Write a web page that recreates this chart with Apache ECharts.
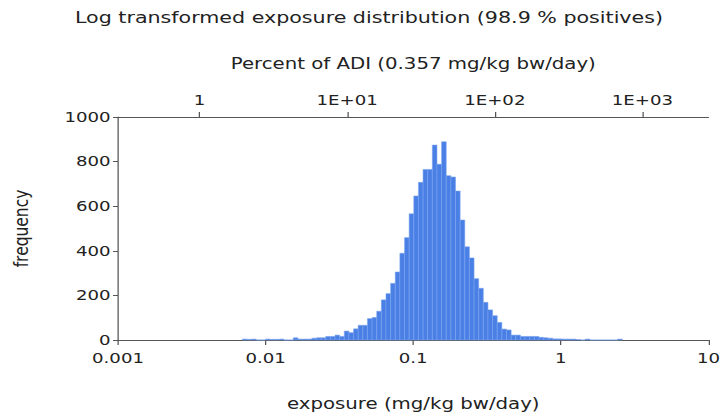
<!DOCTYPE html>
<html>
	<head>
		<title>Log transformed exposure distribution</title>
		<meta http-equiv="content-type" content="text/html; charset=UTF-8">
		<script src="https://cdn.jsdelivr.net/npm/echarts@6.0.0/dist/echarts.min.js"></script>
		<style>
			html {height: 100%; width: 100%;}
			body {height: 100%; width: 100%; margin:0px; background:#fff; overflow:hidden;}
			/* the original picture is stretched sideways, so the chart is drawn narrow and widened */
			#container {width:579px; height:417px; transform: scaleX(1.25); transform-origin: 0 0;}
		</style>
		<script>
			// histogram bins, equal width in log10(exposure)
			const binStart = -2.158;   // log10 of the left edge of the first bin
			const binWidth = 0.0314;   // bin width in log10 units
			const counts = [
				4, 3, 4, 0, 0, 4, 3, 3, 4, 0,
				0, 10, 4, 4, 4, 8, 10, 10, 16, 16,
				22, 16, 40, 33, 50, 66, 66, 96, 101, 129,
				180, 208, 254, 305, 389, 459, 566, 646, 707, 765,
				765, 874, 788, 889, 737, 731, 668, 538, 418, 368,
				275, 232, 169, 135, 109, 79, 49, 45, 22, 22,
				16, 16, 16, 16, 12, 10, 8, 5, 5, 4,
				4, 4, 2, 0, 4, 0, 0, 0, 0, 0,
				0, 4
			];
			const adi = 0.357;  // mg/kg bw/day
			const exposureTicks = [0.001, 0.01, 0.1, 1, 10];
			const exposureLabels = ['0.001', '0.01', '0.1', '1', '10'];
			const adiTicks = [1, 10, 100, 1000];
			const adiLabels = ['1', '1E+01', '1E+02', '1E+03'];

			let chart;
			function findLabel(v, ticks, labels) {
				let i = ticks.findIndex(function (t) { return Math.abs(Math.log10(v) - Math.log10(t)) < 1e-6; });
				return i >= 0 ? labels[i] : '';
			}
			function onload() {
				chart = echarts.init(document.getElementById('container'), null, {renderer: 'svg'});
				const font = 'DejaVu Sans';
				const bins = counts.map(function (c, i) {
					return [Math.pow(10, binStart + i * binWidth), Math.pow(10, binStart + (i + 1) * binWidth), c];
				});
				const lineStyle = {color: '#555', width: 1};
				let option = {
					animation: false,
					textStyle: {fontFamily: font},
					title: {
						text: 'Log transformed exposure distribution (98.9 % positives)',
						left: 55,
						top: 4,
						padding: 5,
						textStyle: {fontFamily: font, fontSize: 16.5, fontWeight: 'normal', color: '#222'}
					},
					grid: {left: 94.4, right: 8.8, top: 117, bottom: 77},
					xAxis: [
						{
							type: 'log', logBase: 10, min: 0.001, max: 10,
							position: 'bottom',
							name: 'exposure (mg/kg bw/day)',
							nameLocation: 'middle', nameGap: 55,
							nameTextStyle: {fontSize: 15.8, color: '#222'},
							axisLine: {lineStyle: lineStyle},
							axisTick: {length: 5, lineStyle: lineStyle},
							axisLabel: {
								fontSize: 14.5, color: '#222', margin: 11,
								formatter: function (v) { return findLabel(v, exposureTicks, exposureLabels); }
							},
							splitLine: {show: false}
						},
						{
							type: 'log', logBase: 10, min: 0.001 / adi * 100, max: 10 / adi * 100,
							position: 'top',
							name: 'Percent of ADI (' + adi + ' mg/kg bw/day)',
							nameLocation: 'middle', nameGap: 46,
							nameTextStyle: {fontSize: 15.8, color: '#222'},
							axisLine: {lineStyle: lineStyle},
							axisTick: {length: 5, lineStyle: lineStyle, customValues: adiTicks},
							axisLabel: {
								fontSize: 14.5, color: '#222', margin: 9,
								customValues: adiTicks,
								formatter: function (v) { return findLabel(v, adiTicks, adiLabels); }
							},
							splitLine: {show: false}
						}
					],
					yAxis: {
						type: 'value', min: 0, max: 1000, interval: 200,
						name: 'frequency',
						nameLocation: 'middle', nameGap: 69,
						nameTextStyle: {fontSize: 15.5, color: '#222'},
						axisLine: {show: true, lineStyle: lineStyle},
						axisTick: {show: true, length: 4, lineStyle: lineStyle},
						axisLabel: {
							fontSize: 14.5, color: '#222', margin: 6,
							formatter: function (v) { return String(v); }
						},
						splitLine: {show: false}
					},
					series: [
						{
							type: 'custom',
							xAxisIndex: 0,
							encode: {x: [0, 1], y: 2},
							data: bins,
							renderItem: function (params, api) {
								let p0 = api.coord([api.value(0), api.value(2)]);
								let p1 = api.coord([api.value(1), 0]);
								return {
									type: 'rect',
									shape: {x: p0[0], y: p0[1], width: p1[0] - p0[0], height: p1[1] - p0[1]},
									style: {fill: '#4a80e6', stroke: '#7aa3ee', lineWidth: 0.5}
								};
							}
						}
					]
				};
				chart.setOption(option);
			}
		</script>
	</head>
	<body onload="onload()">
		<div id="container"></div>
	</body>
</html>
